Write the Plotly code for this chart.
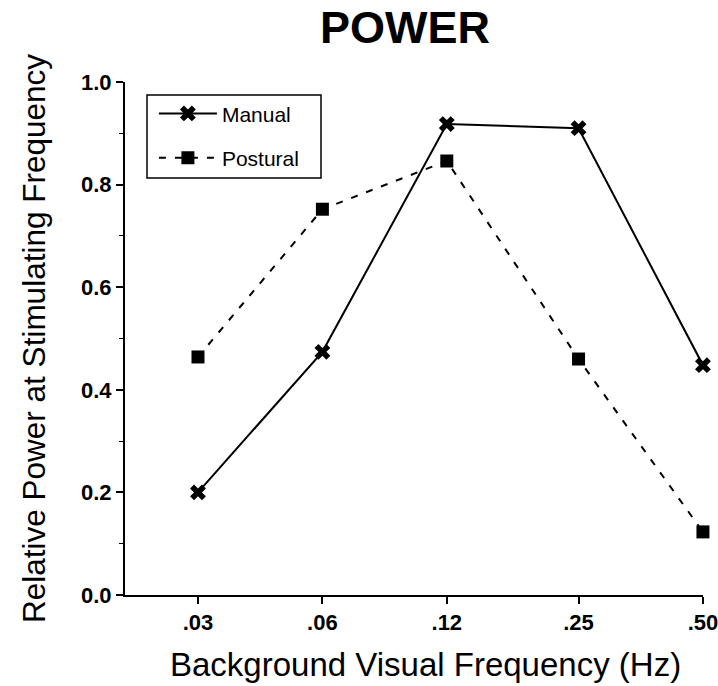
import plotly.graph_objects as go

freqs = [0.03, 0.06, 0.12, 0.25, 0.50]
tick_labels = [".03", ".06", ".12", ".25", ".50"]
manual = [0.20, 0.474, 0.918, 0.910, 0.448]
postural = [0.464, 0.752, 0.846, 0.46, 0.123]

FONT = "Liberation Sans, Arial, Helvetica, sans-serif"

fig = go.Figure()
fig.add_trace(go.Scatter(
    x=freqs, y=manual, name="Manual", mode="lines+markers",
    line=dict(color="black", width=2),
    marker=dict(symbol="x", size=14, color="black"),
    legendgroup="a",
))
fig.add_trace(go.Scatter(
    x=freqs, y=postural, name="Postural", mode="lines+markers",
    line=dict(color="black", width=2, dash="7px,9px"),
    marker=dict(symbol="square", size=13, color="black"),
    legendgroup="b",
))

fig.update_traces(cliponaxis=False)

# legend frame (paper coordinates)
fig.add_shape(type="rect", xref="paper", yref="paper",
              x0=(147 - 125) / 578, x1=(321 - 125) / 578,
              y0=(595 - 178) / 513, y1=(595 - 95) / 513,
              line=dict(color="black", width=1.5), fillcolor="rgba(0,0,0,0)", layer="above")

# x-axis title (slightly right of plot centre, as in the reference)
fig.add_annotation(text="Background Visual Frequency (Hz)", xref="paper", yref="paper",
                   x=(425 - 125) / 578, y=(595 - 665) / 513, xanchor="center", yanchor="middle",
                   showarrow=False, font=dict(size=33, family=FONT, color="black"))

fig.update_layout(
    width=718, height=686,
    margin=dict(l=125, r=15, t=82, b=91, autoexpand=False),
    paper_bgcolor="white", plot_bgcolor="white",
    font=dict(family=FONT, color="black"),
    title=dict(text="<b>POWER</b>", x=0.564, xanchor="center", y=0.96, yanchor="middle",
               font=dict(size=45, family=FONT)),
    showlegend=True,
    legend=dict(x=0.05, y=0.978, xanchor="left", yanchor="top",
                borderwidth=0, bgcolor="rgba(0,0,0,0)",
                font=dict(size=21, family=FONT), tracegroupgap=14,
                traceorder="grouped", itemwidth=58),
    xaxis=dict(
        type="log", range=[-1.6995, -0.3009],
        tickvals=freqs, ticktext=tick_labels, automargin=False,
        ticklabeloverflow="allow",
        showgrid=False, zeroline=False,
        showline=True, linecolor="black", linewidth=2,
        ticks="outside", ticklen=7, tickwidth=2, tickcolor="black",
        tickfont=dict(size=22, family=FONT, weight="bold"),
    ),
    yaxis=dict(
        range=[0, 1.0], tickvals=[0, 0.2, 0.4, 0.6, 0.8, 1.0],
        ticktext=["0.0", "0.2", "0.4", "0.6", "0.8", "1.0"], automargin=False,
        showgrid=False, zeroline=False,
        showline=True, linecolor="black", linewidth=2,
        ticks="outside", ticklen=7, tickwidth=1.5, tickcolor="black",
        tickfont=dict(size=22, family=FONT, weight="bold"),
        minor=dict(dtick=0.1, ticks="outside", ticklen=4, tickcolor="black", tickwidth=1),
        title=dict(text="Relative Power at Stimulating Frequency", font=dict(size=31.5, family=FONT), standoff=26),
    ),
)

fig.write_html("out.html")
